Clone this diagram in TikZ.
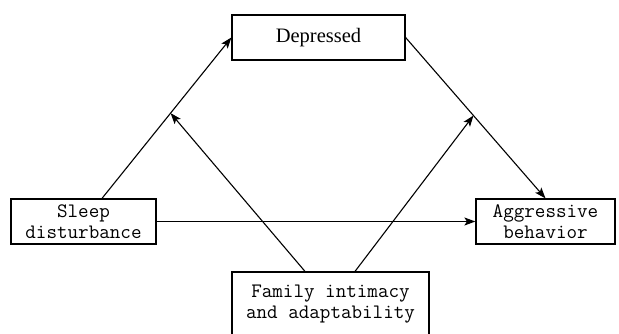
\documentclass[tikz,border=0pt]{standalone}
\usepackage{fontspec}
\setmainfont{Liberation Serif}
\usetikzlibrary{arrows.meta,calc}
\begin{document}
\begin{tikzpicture}[x=1pt,y=-1pt,
  box/.style={draw, line width=1.2pt, inner sep=0pt, align=center},
  mono/.style={font=\ttfamily\fontsize{20.5}{21.5}\selectfont},
  conn/.style={line width=1.1pt, -{Stealth[length=11pt,width=8pt,inset=2.5pt]}}]
\useasboundingbox[fill=white] (0,0) rectangle (619,334);
\node[box, mono, minimum width=145pt, minimum height=45pt] (sleep) at (83.5,221.5) {Sleep\\disturbance};
\node[box, minimum width=173pt, minimum height=45pt, font=\fontsize{20.5}{24}\selectfont] (dep) at (318.5,37.5) {Depressed};
\node[box, mono, minimum width=139pt, minimum height=45pt] (agg) at (545.5,221.5) {Aggressive\\behavior};
\node[box, mono, minimum width=197pt, minimum height=64pt] (fam) at (330.5,304) {Family intimacy\\and adaptability};
\coordinate (s1) at ($(sleep.north)+(18.5,0)$);
\coordinate (f1) at ($(fam.north)+(-25.5,0)$);
\coordinate (f2) at ($(fam.north)+(24.5,0)$);
\path (s1) -- (dep.west) coordinate[pos=0.53] (m1);
\path (dep.east) -- (agg.north) coordinate[pos=0.485] (m2);
\draw[conn] (s1) -- (dep.west);
\draw[conn] (dep.east) -- (agg.north);
\draw[conn] (sleep.east) -- (agg.west);
\draw[conn] (f1) -- (m1);
\draw[conn] (f2) -- (m2);
\end{tikzpicture}
\end{document}
